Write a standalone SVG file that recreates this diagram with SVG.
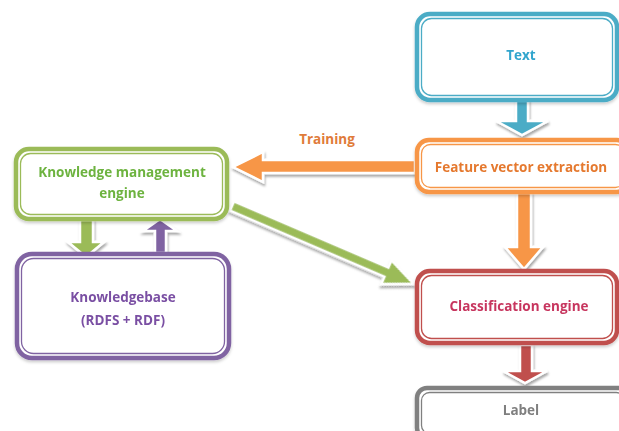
<svg xmlns="http://www.w3.org/2000/svg" width="619" height="431" viewBox="0 0 619 431">
<defs>
<filter id="sh" x="-20%" y="-20%" width="140%" height="150%">
<feDropShadow dx="1" dy="2.5" stdDeviation="1.2" flood-color="#000" flood-opacity="0.35"/>
</filter>
<filter id="bsh" x="-10%" y="-10%" width="120%" height="130%">
<feDropShadow dx="0" dy="2" stdDeviation="1.5" flood-color="#000" flood-opacity="0.2"/>
</filter>
</defs>
<style>
.o{fill:#fff;stroke-width:4.5}
.i{fill:none;stroke-width:1.3}
.t{font-family:"Open Sans","Liberation Sans",sans-serif;font-weight:700;font-size:13.5px;text-anchor:middle}
.a{stroke:#fff;stroke-width:2.5;stroke-linejoin:miter;filter:url(#sh)}
</style>
<rect width="619" height="431" fill="#fff"/>
<g id="connectors">
<polygon class="a" fill="#4BACC6" points="516,99 528,99 528,121 548,121 522,135 496,121 516,121"/>
<polygon class="a" fill="#F79646" points="415,160 263,160 263,152 233,167 263,182 263,173 415,173"/>
<polygon class="a" fill="#F79646" points="517,193 531,193 531,247 543,247 524,269 505,247 517,247"/>
<polygon class="a" fill="#C0504D" points="520,345 532,345 532,371 547,371 525,383 503,371 520,371"/>
<polygon class="a" fill="#9BBB59" points="80,220 93,220 93,242 104,242 86,257 68,242 80,242"/>
<polygon class="a" fill="#8064A2" points="155,253 166,253 166,231 177,231 160,219 143,231 155,231"/>
<polygon class="a" fill="#9BBB59" transform="translate(232,206) rotate(23.2)" points="0,-5 168,-5 168,-13 198,0 168,13 168,5 0,5"/>
</g>
<g id="text-node" filter="url(#bsh)">
<rect class="o" x="417" y="14" width="200" height="86" rx="13" stroke="#4BACC6"/>
<rect class="i" x="421.5" y="18.5" width="191" height="77" rx="10" stroke="#4BACC6"/>
<text class="t" x="521" y="60" fill="#31A5CD">Text</text>
</g>
<g id="feature-node" filter="url(#bsh)">
<rect class="o" x="417" y="140" width="212" height="52" rx="12" stroke="#F79646"/>
<rect class="i" x="421.5" y="144.5" width="203" height="43" rx="9" stroke="#F79646"/>
<text class="t" x="521" y="172" fill="#E5792F">Feature vector extraction</text>
</g>
<g id="km-node" filter="url(#bsh)">
<rect class="o" x="16" y="149" width="211" height="70" rx="13" stroke="#9BBB59"/>
<rect class="i" x="20.5" y="153.5" width="202" height="61" rx="10" stroke="#9BBB59"/>
<text class="t" x="122" y="177" fill="#6DB33F">Knowledge management</text>
<text class="t" x="122" y="198" fill="#6DB33F">engine</text>
</g>
<g id="kb-node" filter="url(#bsh)">
<rect class="o" x="17" y="254" width="212" height="104" rx="15" stroke="#8064A2"/>
<rect class="i" x="21.5" y="258.5" width="203" height="95" rx="12" stroke="#8064A2"/>
<text class="t" x="123" y="302" fill="#7A4FA3">Knowledgebase</text>
<text class="t" x="123" y="325" fill="#7A4FA3">(RDFS + RDF)</text>
</g>
<g id="class-node" filter="url(#bsh)">
<rect class="o" x="417" y="271" width="200" height="72" rx="13" stroke="#C0504D"/>
<rect class="i" x="421.5" y="275.5" width="191" height="63" rx="10" stroke="#C0504D"/>
<text class="t" x="519" y="311" fill="#C7365E">Classification engine</text>
</g>
<g id="label-node" filter="url(#bsh)">
<rect class="o" x="417" y="388" width="212" height="50" rx="10" stroke="#808080"/>
<rect class="i" x="421.5" y="392.5" width="203" height="41" rx="8" stroke="#808080"/>
<text class="t" x="521" y="415" fill="#7F7F7F">Label</text>
</g>
<text class="t" x="327" y="144" fill="#E07B39">Training</text>
</svg>
